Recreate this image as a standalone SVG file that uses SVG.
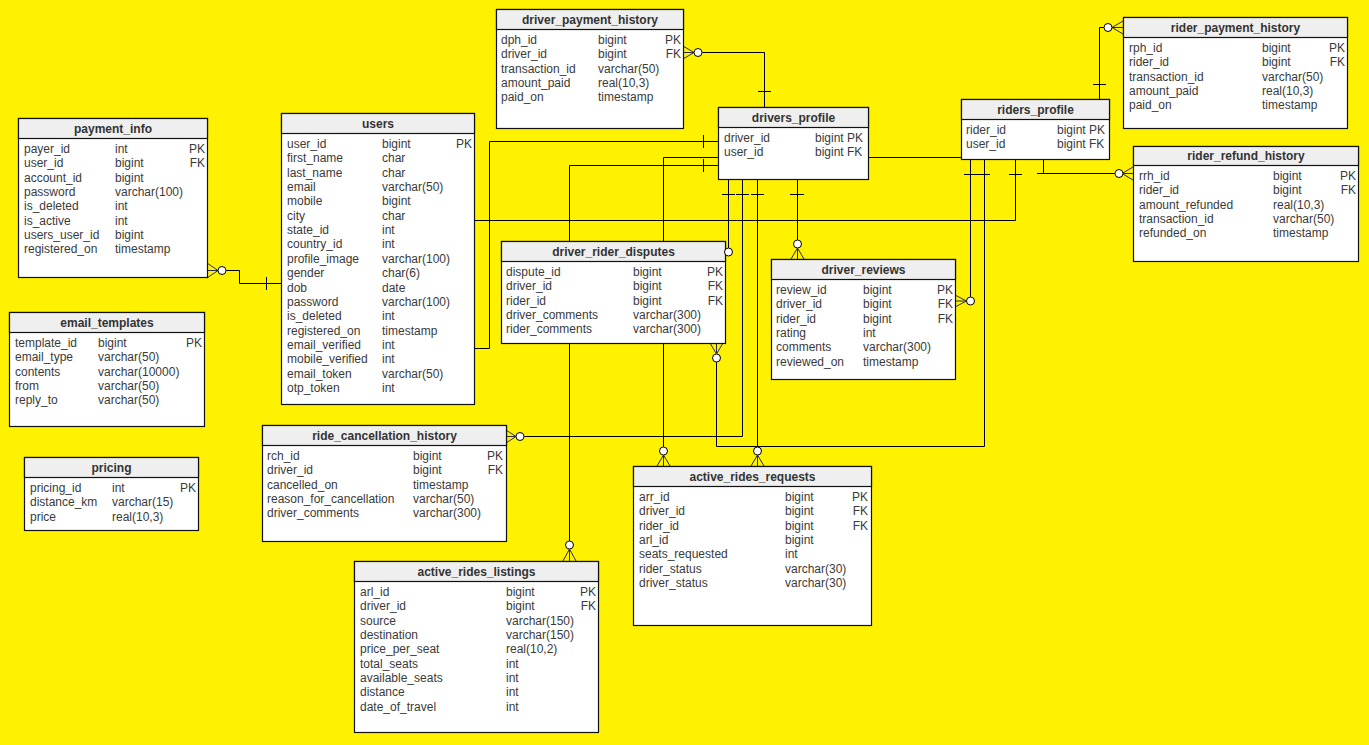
<svg xmlns="http://www.w3.org/2000/svg" width="1369" height="745" viewBox="0 0 1369 745">
<defs>
<style>
.bg{fill:#FFF200}
.box{fill:#FFFFFF;stroke:#111;stroke-width:1.2}
.hd{fill:#EFEFEF;stroke:#111;stroke-width:1.2}
.ht{font-family:"Liberation Sans",Arial,sans-serif;font-size:12px;font-weight:bold;fill:#333;text-anchor:middle}
text{font-family:"Liberation Sans",Arial,sans-serif;font-size:12px;fill:#3a3a3a}
.k{text-anchor:end}
.ln{fill:none;stroke:#000;stroke-width:1}
.cf{fill:none;stroke:#2a2a4a;stroke-width:1}
.ck{fill:#FFFFFF;stroke:#000;stroke-width:1}
.tk{fill:none;stroke:#000;stroke-width:1}
</style>
</defs>
<rect class="bg" x="0" y="0" width="1369" height="745"/>

<g id="connectors">
  <g id="c_payment_users">
    <path class="ln" d="M226,270.5 H239.5 V283.5 H281"/>
    <path class="cf" d="M207,263 L218,270.5 M207,270.5 H218 M207,278 L218,270.5"/>
    <circle class="ck" cx="222" cy="270.5" r="4"/>
    <path class="tk" d="M266.5,277 V290"/>
  </g>
  <g id="c_dph_drivers">
    <path class="ln" d="M702,52.5 H764.5 V107"/>
    <path class="cf" d="M683,46 L694,52.5 M683,52.5 H694 M683,59 L694,52.5"/>
    <circle class="ck" cx="698" cy="52.5" r="4"/>
    <path class="tk" d="M758,91.5 H771"/>
  </g>
  <g id="c_rph_riders">
    <path class="ln" d="M1104,27.5 H1099.5 V99"/>
    <path class="cf" d="M1123,21 L1112,27.5 M1123,27.5 H1112 M1123,34 L1112,27.5"/>
    <circle class="ck" cx="1108" cy="27.5" r="4"/>
    <path class="tk" d="M1093,84.5 H1106"/>
  </g>
  <g id="c_rrh_riders">
    <path class="ln" d="M1043.5,159 V173.5 M1037,173.5 H1115"/>
    <path class="cf" d="M1133,167 L1122,173.5 M1133,173.5 H1122 M1133,180 L1122,173.5"/>
    <circle class="ck" cx="1119" cy="173.5" r="4"/>
  </g>
  <g id="c_users_riders">
    <path class="ln" d="M474,220.5 H1015.5 V159"/>
    <path class="tk" d="M1009,174.5 H1022"/>
  </g>
  <g id="c_riders_requests">
    <path class="ln" d="M961,157.5 H663.5 V447"/>
    <circle class="ck" cx="663.5" cy="451" r="4"/>
    <path class="cf" d="M663.5,455 L657,466 M663.5,455 V466 M663.5,455 L670,466"/>
  </g>
  <g id="c_users_drivers">
    <path class="ln" d="M474,348.5 H489.5 V141.5 H718"/>
    <path class="tk" d="M703.5,135 V148"/>
  </g>
  <g id="c_drivers_listings">
    <path class="ln" d="M718,165.5 H569.5 V541"/>
    <circle class="ck" cx="569.5" cy="545" r="4"/>
    <path class="cf" d="M569.5,549 L563,561 M569.5,549 V561 M569.5,549 L576,561"/>
    <path class="tk" d="M703.5,159 V172"/>
  </g>
  <g id="c_drivers_disputes">
    <path class="ln" d="M728.5,179 V248"/>
    <path class="tk" d="M722,194.5 H735"/>
  </g>
  <g id="c_drivers_cancel">
    <path class="ln" d="M742.5,179 V436.5 H524"/>
    <circle class="ck" cx="520" cy="436.5" r="4"/>
    <path class="cf" d="M506,430 L516,436.5 M506,436.5 H516 M506,443 L516,436.5"/>
    <path class="tk" d="M736,194.5 H749"/>
  </g>
  <g id="c_drivers_requests">
    <path class="ln" d="M757.5,179 V447"/>
    <circle class="ck" cx="757.5" cy="451" r="4"/>
    <path class="cf" d="M757.5,455 L751,466 M757.5,455 V466 M757.5,455 L764,466"/>
    <path class="tk" d="M751,194.5 H764"/>
  </g>
  <g id="c_drivers_reviews">
    <path class="ln" d="M797.5,179 V240"/>
    <circle class="ck" cx="797.5" cy="244" r="4"/>
    <path class="cf" d="M797.5,248 L791,259 M797.5,248 V259 M797.5,248 L804,259"/>
    <path class="tk" d="M790,194.5 H804"/>
  </g>
  <g id="c_riders_reviews">
    <path class="ln" d="M970.5,159 V297"/>
    <circle class="ck" cx="970.5" cy="301" r="4"/>
    <path class="cf" d="M955,295 L966.5,301 M955,301 H966.5 M955,307 L966.5,301"/>
    <path class="tk" d="M964,174.5 H977"/>
  </g>
  <g id="c_riders_disputes">
    <path class="ln" d="M984.5,159 V446.5 H716.5 V362"/>
    <circle class="ck" cx="716.5" cy="358" r="4"/>
    <path class="cf" d="M716.5,354 L710,343 M716.5,354 V343 M716.5,354 L723,343"/>
    <path class="tk" d="M977,174.5 H990"/>
  </g>
</g>

<g id="payment_info">
  <rect class="box" x="18.5" y="118.5" width="189" height="159"/>
  <rect class="hd" x="18.5" y="118.5" width="189" height="20"/>
  <text class="ht" x="113" y="132.5">payment_info</text>
  <text x="24" y="153">payer_id</text><text x="115" y="153">int</text><text class="k" x="205" y="153">PK</text>
  <text x="24" y="167.35">user_id</text><text x="115" y="167.35">bigint</text><text class="k" x="205" y="167.35">FK</text>
  <text x="24" y="181.7">account_id</text><text x="115" y="181.7">bigint</text>
  <text x="24" y="196.05">password</text><text x="115" y="196.05">varchar(100)</text>
  <text x="24" y="210.4">is_deleted</text><text x="115" y="210.4">int</text>
  <text x="24" y="224.75">is_active</text><text x="115" y="224.75">int</text>
  <text x="24" y="239.1">users_user_id</text><text x="115" y="239.1">bigint</text>
  <text x="24" y="253.45">registered_on</text><text x="115" y="253.45">timestamp</text>
</g>

<g id="users">
  <rect class="box" x="281.5" y="113.5" width="193" height="291"/>
  <rect class="hd" x="281.5" y="113.5" width="193" height="20"/>
  <text class="ht" x="378" y="127.5">users</text>
  <text x="287" y="148">user_id</text><text x="382" y="148">bigint</text><text class="k" x="472" y="148">PK</text>
  <text x="287" y="162.35">first_name</text><text x="382" y="162.35">char</text>
  <text x="287" y="176.7">last_name</text><text x="382" y="176.7">char</text>
  <text x="287" y="191.05">email</text><text x="382" y="191.05">varchar(50)</text>
  <text x="287" y="205.4">mobile</text><text x="382" y="205.4">bigint</text>
  <text x="287" y="219.75">city</text><text x="382" y="219.75">char</text>
  <text x="287" y="234.1">state_id</text><text x="382" y="234.1">int</text>
  <text x="287" y="248.45">country_id</text><text x="382" y="248.45">int</text>
  <text x="287" y="262.8">profile_image</text><text x="382" y="262.8">varchar(100)</text>
  <text x="287" y="277.15">gender</text><text x="382" y="277.15">char(6)</text>
  <text x="287" y="291.5">dob</text><text x="382" y="291.5">date</text>
  <text x="287" y="305.85">password</text><text x="382" y="305.85">varchar(100)</text>
  <text x="287" y="320.2">is_deleted</text><text x="382" y="320.2">int</text>
  <text x="287" y="334.55">registered_on</text><text x="382" y="334.55">timestamp</text>
  <text x="287" y="348.9">email_verified</text><text x="382" y="348.9">int</text>
  <text x="287" y="363.25">mobile_verified</text><text x="382" y="363.25">int</text>
  <text x="287" y="377.6">email_token</text><text x="382" y="377.6">varchar(50)</text>
  <text x="287" y="391.95">otp_token</text><text x="382" y="391.95">int</text>
</g>

<g id="driver_payment_history">
  <rect class="box" x="496.5" y="9.5" width="187" height="119"/>
  <rect class="hd" x="496.5" y="9.5" width="187" height="20"/>
  <text class="ht" x="590" y="23.5">driver_payment_history</text>
  <text x="501" y="44">dph_id</text><text x="598" y="44">bigint</text><text class="k" x="681" y="44">PK</text>
  <text x="501" y="58.35">driver_id</text><text x="598" y="58.35">bigint</text><text class="k" x="681" y="58.35">FK</text>
  <text x="501" y="72.7">transaction_id</text><text x="598" y="72.7">varchar(50)</text>
  <text x="501" y="87.05">amount_paid</text><text x="598" y="87.05">real(10,3)</text>
  <text x="501" y="101.4">paid_on</text><text x="598" y="101.4">timestamp</text>
</g>

<g id="drivers_profile">
  <rect class="box" x="718.5" y="107.5" width="150" height="72"/>
  <rect class="hd" x="718.5" y="107.5" width="150" height="20"/>
  <text class="ht" x="793.5" y="121.5">drivers_profile</text>
  <text x="724" y="142">driver_id</text><text x="815" y="142">bigint PK</text>
  <text x="724" y="156.35">user_id</text><text x="815" y="156.35">bigint FK</text>
</g>

<g id="riders_profile">
  <rect class="box" x="961.5" y="99.5" width="148" height="60"/>
  <rect class="hd" x="961.5" y="99.5" width="148" height="20"/>
  <text class="ht" x="1035.5" y="113.5">riders_profile</text>
  <text x="966" y="134">rider_id</text><text x="1057" y="134">bigint PK</text>
  <text x="966" y="148.35">user_id</text><text x="1057" y="148.35">bigint FK</text>
</g>

<g id="rider_payment_history">
  <rect class="box" x="1123.5" y="17.5" width="224" height="111"/>
  <rect class="hd" x="1123.5" y="17.5" width="224" height="20"/>
  <text class="ht" x="1235.5" y="31.5">rider_payment_history</text>
  <text x="1129" y="52">rph_id</text><text x="1262" y="52">bigint</text><text class="k" x="1345" y="52">PK</text>
  <text x="1129" y="66.35">rider_id</text><text x="1262" y="66.35">bigint</text><text class="k" x="1345" y="66.35">FK</text>
  <text x="1129" y="80.7">transaction_id</text><text x="1262" y="80.7">varchar(50)</text>
  <text x="1129" y="95.05">amount_paid</text><text x="1262" y="95.05">real(10,3)</text>
  <text x="1129" y="109.4">paid_on</text><text x="1262" y="109.4">timestamp</text>
</g>

<g id="rider_refund_history">
  <rect class="box" x="1133.5" y="146.5" width="225" height="115"/>
  <rect class="hd" x="1133.5" y="146.5" width="225" height="19"/>
  <text class="ht" x="1246" y="160">rider_refund_history</text>
  <text x="1139" y="180">rrh_id</text><text x="1273" y="180">bigint</text><text class="k" x="1356" y="180">PK</text>
  <text x="1139" y="194.35">rider_id</text><text x="1273" y="194.35">bigint</text><text class="k" x="1356" y="194.35">FK</text>
  <text x="1139" y="208.7">amount_refunded</text><text x="1273" y="208.7">real(10,3)</text>
  <text x="1139" y="223.05">transaction_id</text><text x="1273" y="223.05">varchar(50)</text>
  <text x="1139" y="237.4">refunded_on</text><text x="1273" y="237.4">timestamp</text>
</g>

<g id="driver_rider_disputes">
  <rect class="box" x="501.5" y="241.5" width="224" height="102"/>
  <rect class="hd" x="501.5" y="241.5" width="224" height="20"/>
  <text class="ht" x="613.5" y="255.5">driver_rider_disputes</text>
  <text x="506" y="276">dispute_id</text><text x="633" y="276">bigint</text><text class="k" x="723" y="276">PK</text>
  <text x="506" y="290.35">driver_id</text><text x="633" y="290.35">bigint</text><text class="k" x="723" y="290.35">FK</text>
  <text x="506" y="304.7">rider_id</text><text x="633" y="304.7">bigint</text><text class="k" x="723" y="304.7">FK</text>
  <text x="506" y="319.05">driver_comments</text><text x="633" y="319.05">varchar(300)</text>
  <text x="506" y="333.4">rider_comments</text><text x="633" y="333.4">varchar(300)</text>
  <circle class="ck" cx="728.5" cy="252" r="4"/>
</g>

<g id="driver_reviews">
  <rect class="box" x="771.5" y="259.5" width="184" height="120"/>
  <rect class="hd" x="771.5" y="259.5" width="184" height="20"/>
  <text class="ht" x="863.5" y="273.5">driver_reviews</text>
  <text x="776" y="294">review_id</text><text x="863" y="294">bigint</text><text class="k" x="953" y="294">PK</text>
  <text x="776" y="308.35">driver_id</text><text x="863" y="308.35">bigint</text><text class="k" x="953" y="308.35">FK</text>
  <text x="776" y="322.7">rider_id</text><text x="863" y="322.7">bigint</text><text class="k" x="953" y="322.7">FK</text>
  <text x="776" y="337.05">rating</text><text x="863" y="337.05">int</text>
  <text x="776" y="351.4">comments</text><text x="863" y="351.4">varchar(300)</text>
  <text x="776" y="365.75">reviewed_on</text><text x="863" y="365.75">timestamp</text>
</g>

<g id="ride_cancellation_history">
  <rect class="box" x="262.5" y="425.5" width="244" height="116"/>
  <rect class="hd" x="262.5" y="425.5" width="244" height="20"/>
  <text class="ht" x="384.5" y="439.5">ride_cancellation_history</text>
  <text x="267" y="460">rch_id</text><text x="413" y="460">bigint</text><text class="k" x="503" y="460">PK</text>
  <text x="267" y="474.35">driver_id</text><text x="413" y="474.35">bigint</text><text class="k" x="503" y="474.35">FK</text>
  <text x="267" y="488.7">cancelled_on</text><text x="413" y="488.7">timestamp</text>
  <text x="267" y="503.05">reason_for_cancellation</text><text x="413" y="503.05">varchar(50)</text>
  <text x="267" y="517.4">driver_comments</text><text x="413" y="517.4">varchar(300)</text>
</g>

<g id="active_rides_requests">
  <rect class="box" x="633.5" y="466.5" width="238" height="159"/>
  <rect class="hd" x="633.5" y="466.5" width="238" height="20"/>
  <text class="ht" x="752.5" y="480.5">active_rides_requests</text>
  <text x="639" y="501">arr_id</text><text x="785" y="501">bigint</text><text class="k" x="868" y="501">PK</text>
  <text x="639" y="515.35">driver_id</text><text x="785" y="515.35">bigint</text><text class="k" x="868" y="515.35">FK</text>
  <text x="639" y="529.7">rider_id</text><text x="785" y="529.7">bigint</text><text class="k" x="868" y="529.7">FK</text>
  <text x="639" y="544.05">arl_id</text><text x="785" y="544.05">bigint</text>
  <text x="639" y="558.4">seats_requested</text><text x="785" y="558.4">int</text>
  <text x="639" y="572.75">rider_status</text><text x="785" y="572.75">varchar(30)</text>
  <text x="639" y="587.1">driver_status</text><text x="785" y="587.1">varchar(30)</text>
</g>

<g id="active_rides_listings">
  <rect class="box" x="354.5" y="561.5" width="244" height="171"/>
  <rect class="hd" x="354.5" y="561.5" width="244" height="20"/>
  <text class="ht" x="476.5" y="575.5">active_rides_listings</text>
  <text x="360" y="596">arl_id</text><text x="506" y="596">bigint</text><text class="k" x="596" y="596">PK</text>
  <text x="360" y="610.35">driver_id</text><text x="506" y="610.35">bigint</text><text class="k" x="596" y="610.35">FK</text>
  <text x="360" y="624.7">source</text><text x="506" y="624.7">varchar(150)</text>
  <text x="360" y="639.05">destination</text><text x="506" y="639.05">varchar(150)</text>
  <text x="360" y="653.4">price_per_seat</text><text x="506" y="653.4">real(10,2)</text>
  <text x="360" y="667.75">total_seats</text><text x="506" y="667.75">int</text>
  <text x="360" y="682.1">available_seats</text><text x="506" y="682.1">int</text>
  <text x="360" y="696.45">distance</text><text x="506" y="696.45">int</text>
  <text x="360" y="710.8">date_of_travel</text><text x="506" y="710.8">int</text>
</g>

<g id="email_templates">
  <rect class="box" x="9.5" y="312.5" width="195" height="114"/>
  <rect class="hd" x="9.5" y="312.5" width="195" height="20"/>
  <text class="ht" x="107" y="326.5">email_templates</text>
  <text x="15" y="347">template_id</text><text x="98" y="347">bigint</text><text class="k" x="202" y="347">PK</text>
  <text x="15" y="361.35">email_type</text><text x="98" y="361.35">varchar(50)</text>
  <text x="15" y="375.7">contents</text><text x="98" y="375.7">varchar(10000)</text>
  <text x="15" y="390.05">from</text><text x="98" y="390.05">varchar(50)</text>
  <text x="15" y="404.4">reply_to</text><text x="98" y="404.4">varchar(50)</text>
</g>

<g id="pricing">
  <rect class="box" x="24.5" y="457.5" width="174" height="73"/>
  <rect class="hd" x="24.5" y="457.5" width="174" height="20"/>
  <text class="ht" x="111.5" y="471.5">pricing</text>
  <text x="30" y="492">pricing_id</text><text x="112" y="492">int</text><text class="k" x="196" y="492">PK</text>
  <text x="30" y="506.35">distance_km</text><text x="112" y="506.35">varchar(15)</text>
  <text x="30" y="520.7">price</text><text x="112" y="520.7">real(10,3)</text>
</g>
</svg>
